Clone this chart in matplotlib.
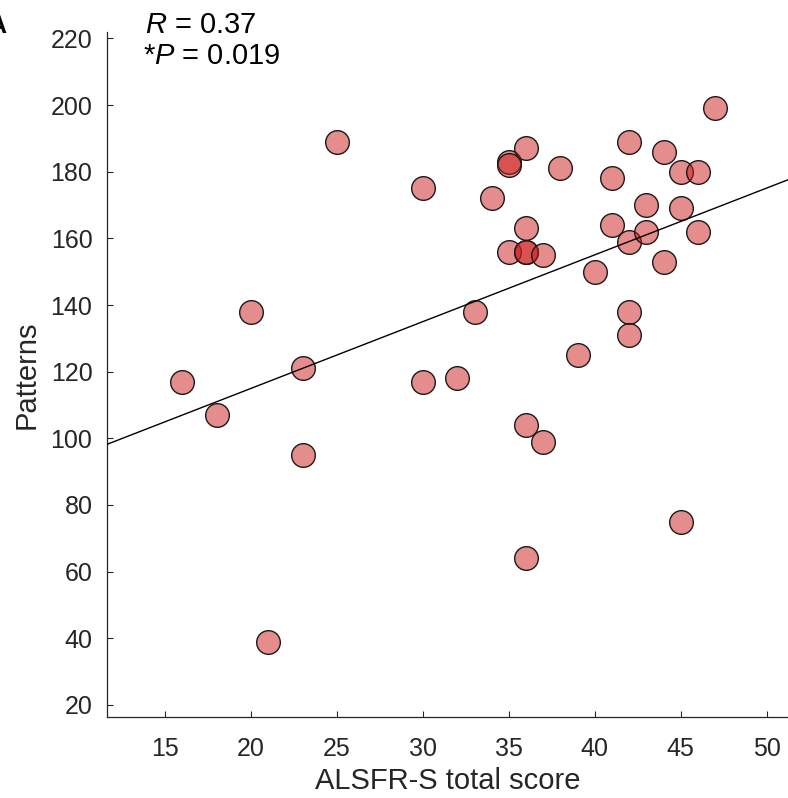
import matplotlib

matplotlib.use("Agg")
import matplotlib.pyplot as plt
import numpy as np

plt.rcParams["font.family"] = ["Liberation Sans", "DejaVu Sans"]
plt.rcParams["mathtext.fontset"] = "custom"
plt.rcParams["mathtext.it"] = "Liberation Sans:italic"
plt.rcParams["mathtext.rm"] = "Liberation Sans"

# ALSFR-S total score vs number of patterns, one entry per subject
alsfrs_score = [16, 18, 20, 21, 23, 23, 25, 30, 30, 32, 33, 34, 35, 35, 35,
                36, 36, 36, 36, 36, 36, 37, 37, 38, 39, 40, 41, 41, 42, 42,
                42, 42, 43, 43, 44, 44, 45, 45, 45, 46, 46, 47]
patterns = [117, 107, 138, 39, 121, 95, 189, 175, 117, 118, 138, 172, 183, 182, 156,
            187, 163, 156, 156, 104, 64, 155, 99, 181, 125, 150, 178, 164, 189, 159,
            138, 131, 170, 162, 186, 153, 180, 169, 75, 180, 162, 199]
r_value = 0.37
p_value = 0.019

x_ticks = [15, 20, 25, 30, 35, 40, 45, 50]
y_ticks = list(range(20, 221, 20))

AX_COLOR = "#262626"

x = np.array(alsfrs_score, dtype=float)
y = np.array(patterns, dtype=float)
slope, intercept = np.polyfit(x, y, 1)

W, H = 788, 798
fig = plt.figure(figsize=(W / 100, H / 100), dpi=100)
ax = fig.add_axes([107 / W, 1 - 717.3 / H, (W - 107 + 1) / W, (717.3 - 31.7) / H])

xlim = (11.61, 51.3)
ylim = (16.3, 222.0)

ax.scatter(x, y, s=290, facecolor=(0.8, 0.1, 0.1, 0.5), edgecolor="#1a1a1a",
           linewidth=1.0, zorder=2)
xf = np.array(xlim)
ax.plot(xf, slope * xf + intercept, color="black", linewidth=1.0, zorder=3)

ax.set_xlim(*xlim)
ax.set_ylim(*ylim)
ax.set_xticks(x_ticks)
ax.set_yticks(y_ticks)
for side in ("top", "right"):
    ax.spines[side].set_visible(False)
for side in ("left", "bottom"):
    ax.spines[side].set_color(AX_COLOR)
    ax.spines[side].set_linewidth(0.9)
ax.tick_params(axis="both", direction="in", length=4.5, width=0.8,
               color=AX_COLOR, labelcolor=AX_COLOR, labelsize=18)
ax.tick_params(axis="x", pad=14.5)
ax.tick_params(axis="y", pad=10.5)

ax.set_xlabel("ALSFR-S total score", fontsize=21, color=AX_COLOR, labelpad=4)
ax.set_ylabel("Patterns", fontsize=21, color=AX_COLOR, labelpad=7)

fig.text(145 / W, 1 - 33 / H, f"$R$ = {r_value:.2f}", fontsize=21,
         va="baseline", ha="left", color="black")
fig.text(143 / W, 1 - 64.5 / H, f"*$P$ = {p_value:.3f}", fontsize=21,
         va="baseline", ha="left", color="black")
# panel letter, partly outside the canvas
fig.text(-3 / W, 1 - 33 / H, "A", fontsize=18, fontweight="bold",
         va="baseline", ha="center", color="black")

fig.savefig("out.png", dpi=100)
